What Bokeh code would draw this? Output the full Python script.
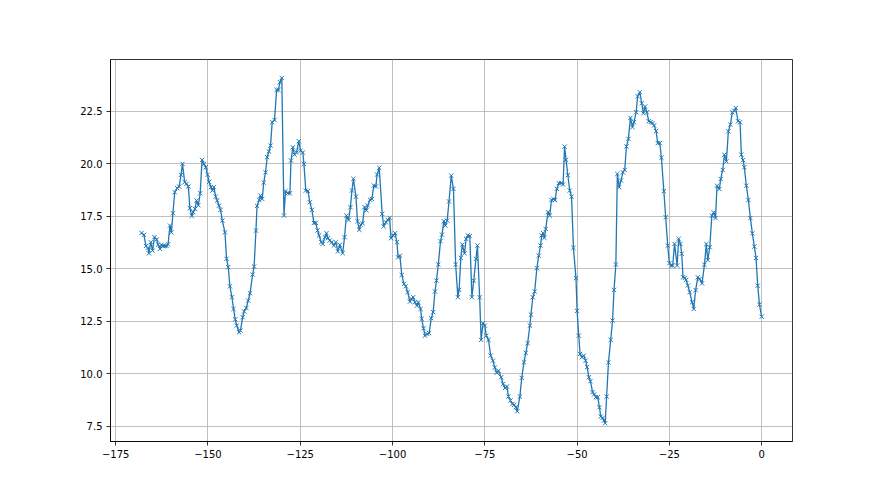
from bokeh.plotting import figure
from bokeh.models import Range1d, FixedTicker
from bokeh.embed import file_html
from bokeh.resources import INLINE

x_vals = [
    -168.0, -167.35, -166.8, -166.3, -166.0, -165.5, -165.0, -164.5, -163.9, -163.5,
    -163.0, -162.6, -162.1, -161.7, -161.2, -160.8, -160.3, -159.9, -159.5, -159.0,
    -158.3, -157.8, -157.3, -156.9, -156.3, -155.8, -155.3, -154.9, -154.4, -154.0,
    -153.5, -153.1, -152.6, -152.1, -151.6, -151.1, -150.6, -150.1, -149.7, -149.2,
    -148.8, -148.4, -147.9, -147.5, -147.0, -146.6, -146.1, -145.4, -144.96, -144.5,
    -144.06, -143.5, -143.07, -142.6, -142.2, -141.6, -141.2, -140.6, -140.2, -139.6,
    -139.1, -138.6, -137.9, -137.5, -137.0, -136.7, -136.1, -135.8, -135.3, -134.9,
    -134.4, -133.95, -133.5, -133.05,
    -132.6, -131.97, -131.4, -130.9, -130.5, -130.0, -129.4, -129.0, -128.4, -127.8,
    -127.5, -127.0, -126.55, -126.0, -125.4, -124.9, -124.3, -124.0, -123.5, -122.9,
    -122.4, -121.85, -121.3, -120.8, -120.3, -119.9, -119.3, -118.9, -118.3, -117.9,
    -117.5, -117.0, -116.5, -115.9, -115.4, -114.8, -114.3, -113.5, -113.0, -112.5,
    -111.9, -111.4, -111.0, -110.6, -109.9, -109.5, -109.0, -108.6, -108.1, -107.6,
    -107.1, -106.7, -106.1, -105.6, -105.07, -104.5, -104.2, -103.6,
    -102.8, -102.4, -101.8, -101.3, -100.8, -100.4, -99.8, -99.3, -98.8, -98.5,
    -98.0, -97.5, -96.9, -96.4, -95.9, -95.3, -94.9, -94.4, -93.9, -93.4,
    -93.0, -92.4, -92.1, -91.6, -91.2, -90.6, -90.1, -89.5, -89.0, -88.5,
    -88.1, -87.6, -87.0, -86.6, -86.1, -85.7, -85.2, -84.7, -84.1, -83.5,
    -82.9, -82.3, -81.96, -81.5, -81.1, -80.5, -80.06, -79.6, -79.07, -78.5,
    -78.0, -77.4, -77.0, -76.4, -76.0, -75.5, -75.0, -74.6, -74.0, -73.4,
    -72.8, -72.3, -71.8, -71.3,
    -70.58, -70.04, -69.5, -69.0, -68.6, -68.05, -67.5, -67.06, -66.6, -66.2,
    -65.5, -65.0, -64.4, -63.9, -63.4, -62.8, -62.5, -62.0, -61.5, -60.9,
    -60.4, -59.9, -59.6, -59.2, -58.85, -58.5, -57.9, -57.4, -56.95, -56.4,
    -55.95, -55.5, -54.96, -54.3, -53.8, -53.4, -53.0, -52.5, -52.0, -51.5,
    -51.0, -50.3, -50.0, -49.55, -49.2, -48.7, -48.2, -47.7, -47.3, -46.8,
    -46.4, -45.8, -45.4, -44.9, -44.4, -43.95, -43.6, -43.1, -42.7, -42.4,
    -42.0, -41.5, -40.9, -40.4, -40.0, -39.5, -39.1, -38.6, -38.1, -37.6,
    -37.1,
    -36.64, -36.1, -35.56, -35.0, -34.6, -34.0, -33.6, -33.0, -32.5, -32.04,
    -31.6, -31.1, -30.6, -30.1, -29.6, -29.15, -28.6, -28.15, -27.6, -27.16,
    -26.5, -26.0, -25.45, -25.0, -24.54, -24.1, -23.6, -22.9, -22.5, -22.0,
    -21.66, -21.3, -20.8, -20.48, -20.0, -19.5,
    -18.86, -18.4, -17.9, -17.3, -16.8, -16.15, -15.5, -15.0, -14.6, -14.07,
    -13.5, -13.0, -12.5, -12.1, -11.46, -11.1, -10.55, -10.1, -9.56, -9.02,
    -8.48, -7.94, -7.4, -7.03, -6.4, -5.86, -5.5, -5.05, -4.7, -4.15,
    -3.6, -3.06, -2.52, -1.98, -1.53, -1.07, -0.6, 0.0,
]

y_vals = [
    16.71, 16.62, 16.09, 16.00, 15.74, 16.27, 15.87, 16.51, 16.40, 16.16,
    15.95, 16.14, 16.09, 16.09, 16.09, 16.17, 17.06, 16.74, 17.65, 18.65,
    18.84, 18.92, 19.48, 20.00, 19.13, 19.05, 18.92, 17.89, 17.52, 17.70,
    17.86, 18.25, 18.03, 18.60, 20.19, 20.00, 19.84, 19.48, 19.14, 18.89,
    18.73, 18.89, 18.44, 18.25, 18.01, 17.81, 17.30, 16.74, 15.48, 15.08,
    14.17, 13.65, 13.09, 12.60, 12.30, 11.98, 12.06, 12.70, 12.97, 13.14,
    13.49, 13.84, 14.73, 15.11, 16.82, 18.00, 18.28, 18.49, 18.33, 19.11,
    19.60, 20.32, 20.59, 20.87,
    21.98, 22.09, 23.52, 23.52, 23.89, 24.09, 17.54, 18.70, 18.60, 18.60,
    20.16, 20.79, 20.44, 20.55, 21.08, 20.63, 20.54, 20.00, 18.73, 18.70,
    18.17, 17.81, 17.19, 17.19, 16.83, 16.59, 16.27, 16.19, 16.51, 16.70,
    16.46, 16.35, 16.27, 16.11, 16.27, 15.83, 16.14, 15.75, 16.51, 17.54,
    17.33, 17.94, 18.73, 19.29, 18.44, 17.27, 16.86, 17.11, 17.17, 17.94,
    17.78, 18.02, 18.29, 18.33, 18.97, 18.92, 19.49, 19.81,
    17.62, 17.02, 17.22, 17.33, 17.43, 16.46, 16.59, 16.70, 16.27, 15.55,
    15.63, 14.71, 14.29, 14.17, 13.89, 13.44, 13.57, 13.65, 13.41, 13.25,
    13.41, 13.09, 12.62, 12.17, 11.82, 11.90, 11.94, 12.65, 12.94, 13.92,
    14.44, 15.21, 16.32, 16.63, 17.27, 17.06, 17.30, 18.21, 19.44, 18.81,
    15.21, 13.65, 14.00, 15.52, 16.16, 15.74, 16.43, 16.59, 16.56, 13.65,
    14.44, 15.48, 16.11, 13.65, 11.62, 12.41, 12.30, 11.82, 11.62, 10.87,
    10.63, 10.30, 10.05, 10.15,
    9.84, 9.52, 9.33, 9.40, 8.92, 8.73, 8.57, 8.52, 8.41, 8.22,
    8.92, 9.81, 10.55, 11.00, 11.46, 12.30, 12.82, 13.65, 13.92, 15.03,
    15.63, 16.11, 16.59, 16.70, 16.48, 16.90, 17.70, 17.54, 18.28, 18.32,
    18.28, 18.81, 19.08, 19.08, 19.02, 20.82, 20.19, 19.46, 18.73, 18.44,
    16.00, 14.56, 13.00, 11.82, 10.95, 10.79, 10.87, 10.63, 10.32, 9.84,
    9.65, 9.13, 9.02, 8.89, 8.89, 8.41, 7.97, 7.90, 7.78, 7.65,
    8.92, 10.55, 11.62, 12.54, 14.00, 15.21, 19.52, 18.89, 19.21, 19.60,
    19.71,
    20.83, 21.19, 22.19, 21.75, 21.99, 22.46, 23.22, 23.41, 22.89, 22.41,
    22.73, 22.46, 22.03, 21.99, 21.94, 21.83, 21.56, 20.99, 20.99, 20.29,
    18.70, 17.46, 16.11, 15.27, 15.16, 15.16, 16.19, 15.16, 16.43, 16.19,
    15.72, 14.60, 14.57, 14.48, 14.21, 13.89,
    13.41, 13.09, 13.99, 14.60, 14.52, 14.31, 15.20, 16.18, 15.42, 16.03,
    17.53, 17.69, 17.42, 18.96, 18.80, 19.28, 19.71, 20.44, 20.12, 21.55,
    21.87, 22.45, 22.53, 22.66, 22.03, 21.98, 20.44, 20.18, 19.84, 18.96,
    18.28, 17.42, 16.69, 16.06, 15.52, 14.20, 13.30, 12.72,
]

x_ticks = [-175, -150, -125, -100, -75, -50, -25, 0]
x_tick_labels = ["\u2212175", "\u2212150", "\u2212125", "\u2212100", "\u221275", "\u221250", "\u221225", "0"]
y_ticks = [7.5, 10.0, 12.5, 15.0, 17.5, 20.0, 22.5]
y_tick_labels = ["7.5", "10.0", "12.5", "15.0", "17.5", "20.0", "22.5"]

color = "#1f77b4"

p = figure(width=880, height=495, output_backend="svg", toolbar_location=None,
           x_range=Range1d(-176.4, 8.35), y_range=Range1d(6.78, 24.97),
           min_border_left=110, min_border_right=88, min_border_top=59, min_border_bottom=54)

p.background_fill_color = "white"
p.border_fill_color = "white"
p.outline_line_color = "black"
p.outline_line_width = 0.8

p.line(x_vals, y_vals, line_color=color, line_width=1.3)
p.scatter(x_vals, y_vals, marker="x", size=6, line_color=color, line_width=1)

p.xaxis.ticker = FixedTicker(ticks=x_ticks)
p.yaxis.ticker = FixedTicker(ticks=y_ticks)
p.yaxis.major_label_overrides = {t: l for t, l in zip(y_ticks, y_tick_labels)}
p.xaxis.major_label_overrides = {t: l for t, l in zip(x_ticks, x_tick_labels)}

for ax in (p.xaxis[0], p.yaxis[0]):
    ax.axis_line_color = "black"
    ax.axis_line_width = 0.8
    ax.major_tick_line_color = "black"
    ax.major_tick_line_width = 0.8
    ax.major_tick_out = 4
    ax.major_tick_in = 0
    ax.minor_tick_line_color = None
    ax.major_label_text_font = "DejaVu Sans"
    ax.major_label_text_font_size = "10px"
    ax.major_label_text_color = "black"
    ax.major_label_standoff = 4

p.xgrid.grid_line_color = "#b0b0b0"
p.ygrid.grid_line_color = "#b0b0b0"
p.xgrid.grid_line_width = 0.8
p.ygrid.grid_line_width = 0.8

open("out.html", "w").write(file_html(p, INLINE))
